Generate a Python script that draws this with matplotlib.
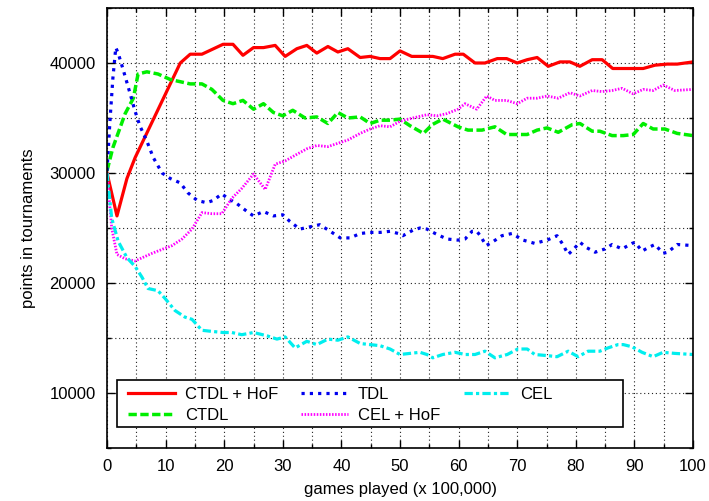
import matplotlib
matplotlib.use("Agg")
import matplotlib.pyplot as plt
from matplotlib.patches import Rectangle
from matplotlib.ticker import MultipleLocator

plt.rcParams["font.family"] = ["Liberation Sans", "DejaVu Sans"]
plt.rcParams["font.size"] = 12

# tournament points vs. games played (units of 100,000 games)
ctdl_hof_x = [0, 1.7, 3.4, 4.8, 12.5, 14.2, 16.2, 19.8, 21.5, 23.2, 25, 26.7, 28.7, 30.4, 32.4,
              34.1, 35.8, 37.7, 39.4, 41.1, 43.2, 44.9, 46.6, 48.3, 50, 52, 55.6, 57.3, 59.4,
              60.8, 62.8, 64.5, 66.6, 68.2, 70, 71.7, 73.4, 75.3, 77.3, 79, 80.7, 82.8, 84.5,
              86.3, 88.1, 89.8, 91.5, 93.5, 95.6, 97.3, 100]
ctdl_hof_y = [30000, 26100, 29500, 31400, 40000, 40800, 40800, 41700, 41700, 40700, 41400,
              41400, 41600, 40600, 41300, 41600, 40900, 41500, 41000, 41300, 40500, 40600,
              40400, 40400, 41100, 40600, 40600, 40400, 40800, 40800, 40000, 40000, 40400,
              40400, 40000, 40300, 40500, 39700, 40100, 40100, 39700, 40300, 40300, 39500,
              39500, 39500, 39500, 39800, 39900, 39900, 40100]

ctdl_x = [0, 1, 3.1, 4.5, 5.3, 6.8, 8.7, 10.8, 12.5, 14.2, 16.2, 17.9, 19.8, 21.5, 23.2, 25,
          26.7, 28.4, 30, 31.7, 33.8, 35.8, 37.7, 39.4, 41.1, 43.2, 44.9, 46.6, 48.3, 50, 51.7,
          54, 55.5, 57.3, 59.9, 61.6, 64, 66.2, 68.2, 69.6, 71.7, 73.4, 75.1, 77, 79.4, 80.7,
          82.8, 84.1, 86.2, 88.1, 89.8, 91.5, 93.2, 95.2, 97.3, 100]
ctdl_y = [30200, 32300, 35400, 36800, 39000, 39200, 39000, 38500, 38300, 38100, 38100, 37600,
          36600, 36300, 36600, 35800, 36300, 35500, 35200, 35700, 35000, 35100, 34500, 35500,
          35000, 35100, 34500, 34800, 34800, 34900, 34300, 33600, 34400, 34900, 34200, 33900,
          33900, 34200, 33500, 33500, 33500, 33900, 34100, 33700, 34400, 34500, 33800, 33800,
          33400, 33400, 33500, 34500, 34000, 34000, 33600, 33400]

tdl_x = [0, 0.5, 1, 1.5, 1.9, 2.7, 3.9, 4.8, 5.6, 6.8, 7.9, 9.4, 10.8, 12.5, 13.8, 15.4, 17,
         18.1, 19.6, 20.6, 22.2, 23.9, 25, 26.7, 28.4, 30, 31.2, 32.9, 34.6, 36.3, 38.1, 39.8,
         41.5, 43.2, 44.9, 46.6, 48.3, 49.7, 50.5, 52.2, 53.4, 54.6, 56, 58, 59.9, 61.1, 62.3,
         63.1, 63.7, 64.7, 65.7, 67.4, 69.1, 71, 73, 75.1, 76.8, 77.8, 78.7, 79.5, 80.7, 81.9,
         83.3, 85, 86.2, 87.9, 89.6, 90.1, 91.3, 92.3, 93.5, 94.9, 95.7, 97.3, 100]
tdl_y = [30200, 34700, 38600, 41400, 40900, 39500, 37300, 35600, 34300, 32900, 31400, 30000,
         29500, 29100, 28200, 27500, 27300, 27500, 28100, 27700, 27200, 26500, 26100, 26500,
         26100, 26200, 25600, 24900, 25100, 25300, 24700, 24100, 24100, 24500, 24600, 24600,
         24700, 24500, 24300, 24800, 25000, 24900, 24500, 24000, 23900, 24000, 24700, 24700,
         24300, 23400, 23700, 24300, 24500, 23900, 23600, 23900, 24300, 23500, 22600, 23000,
         23700, 23200, 22800, 23100, 23500, 23100, 23600, 23700, 22900, 23200, 23500, 22700,
         22800, 23500, 23400]

cel_hof_x = [0, 0.8, 1.7, 3.1, 4.8, 6, 7.7, 9.6, 11.1, 12.8, 14.5, 16.2, 17.9, 19.6, 21.3, 23,
             25, 27, 28.7, 30.4, 32.4, 34.1, 35.8, 37.7, 39.4, 41.1, 43.2, 44.9, 46.6, 48.3,
             50, 52.2, 54.6, 56.3, 58, 59.9, 61.1, 62.3, 63.1, 64.8, 66.2, 68.2, 70, 71.7,
             73.4, 75.1, 77, 79, 80.7, 82.8, 84.5, 86.2, 87.9, 89.8, 91.5, 93.2, 94.9, 96.9,
             100]
cel_hof_y = [30000, 25000, 22600, 22200, 22000, 22300, 22700, 23100, 23400, 24000, 24900,
             26400, 26300, 26300, 27700, 28600, 29900, 28500, 30800, 31100, 31700, 32200,
             32500, 32400, 32700, 33000, 33600, 34000, 34300, 34200, 34700, 35000, 35300,
             35200, 35400, 35800, 36300, 36000, 35800, 37000, 36600, 36600, 36300, 36800,
             36800, 37000, 36800, 37300, 37000, 37500, 37400, 37500, 37700, 37200, 37600,
             37500, 38000, 37500, 37600]

cel_x = [0, 0.8, 1.9, 3.4, 4.8, 6, 7, 8.7, 9.9, 11.6, 13.3, 14.5, 16.2, 17.9, 19.8, 21.3, 23,
         25, 27.3, 29, 30.4, 32.1, 34.1, 35.8, 37.7, 39.4, 41.1, 43.2, 44.9, 46.6, 48.3, 50,
         51.7, 53.4, 54.6, 55.6, 57.3, 59.4, 61.1, 62.8, 64.5, 66.2, 68.3, 70.1, 71.7, 73,
         75.1, 76.8, 78.7, 80.4, 82.1, 84.1, 85.5, 87.2, 88.1, 89.6, 91.3, 93.2, 94.9, 96.9,
         100]
cel_y = [30000, 25900, 23800, 22300, 21500, 20500, 19500, 19300, 18600, 17500, 16900, 16700,
         15700, 15600, 15500, 15500, 15300, 15500, 15200, 14900, 15100, 14100, 14700, 14400,
         14900, 14800, 15100, 14500, 14400, 14300, 14000, 13500, 13600, 13700, 13500, 13200,
         13500, 13700, 13500, 13500, 13800, 13200, 13500, 14000, 14000, 13500, 13400, 13300,
         13800, 13300, 13800, 13800, 14100, 14400, 14400, 14200, 13700, 13300, 13700, 13600,
         13500]

fig = plt.figure(figsize=(7.09, 5.01), dpi=100)
ax = fig.add_axes([107 / 709, 53 / 501, 586 / 709, 440 / 501])

ax.plot(ctdl_hof_x, ctdl_hof_y, color="#ff0000", lw=2.3, label="CTDL + HoF")
ax.plot(ctdl_x, ctdl_y, color="#00ee00", lw=2.5, dashes=(2.4, 1.0), label="CTDL")
ax.plot(tdl_x, tdl_y, color="#0000ee", lw=2.3, dashes=(1.0, 1.6), label="TDL")
ax.plot(cel_hof_x, cel_hof_y, color="#ff00ff", lw=2.0, dashes=(0.55, 0.55), label="CEL + HoF")
ax.plot(cel_x, cel_y, color="#00eeee", lw=2.3, dashes=(2.6, 1.0, 1.0, 1.0), label="CEL")

ax.set_xlim(0, 100)
ax.set_ylim(5000, 45000)
ax.xaxis.set_major_locator(MultipleLocator(10))
ax.xaxis.set_minor_locator(MultipleLocator(5))
ax.yaxis.set_major_locator(MultipleLocator(10000))
ax.yaxis.set_minor_locator(MultipleLocator(5000))
ax.tick_params(which="both", direction="in", top=True, right=True, width=1.0)
ax.tick_params(which="major", length=6, pad=8)
ax.tick_params(which="minor", length=3)
ax.grid(True, which="both", color="#222222", lw=0.8, linestyle=(0, (1, 2.5)))
for s in ax.spines.values():
    s.set_linewidth(1.2)

ax.set_xlabel("games played (x 100,000)", labelpad=6)
ax.set_ylabel("points in tournaments", labelpad=10)

# opaque key box drawn under the legend entries
ax.add_patch(Rectangle((0.017, 0.048), 0.8635, 0.107, transform=ax.transAxes,
                       facecolor="white", edgecolor="black", lw=1.2, zorder=4))
leg = ax.legend(loc="upper left", bbox_to_anchor=(0.036, 0.138), ncol=3, frameon=False,
                borderpad=0, borderaxespad=0, handlelength=2.8, handletextpad=0.6,
                columnspacing=1.4, labelspacing=0.35, fontsize=12)
leg.set_zorder(5)

plt.savefig("out.png", dpi=100)
